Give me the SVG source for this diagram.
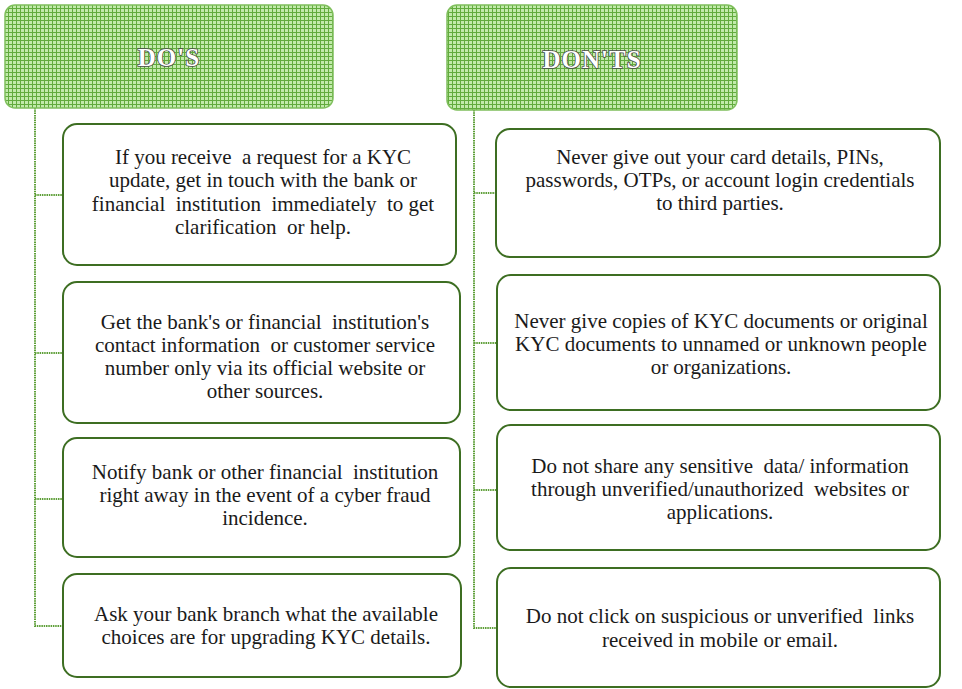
<svg xmlns="http://www.w3.org/2000/svg" width="962" height="689" viewBox="0 0 962 689">
  <defs>
    <!-- fine cross-hatch used for the two header panels -->
    <pattern id="hatch" width="4" height="4" patternUnits="userSpaceOnUse">
      <rect width="4" height="4" fill="#c2eaab"/>
      <path d="M0 0.5H4M0.5 0V4" stroke="#62ab3d" stroke-width="1"/>
    </pattern>
  </defs>
  <style>
    .bg { fill: #ffffff; }
    .head { fill: url(#hatch); stroke: #7fbf5c; stroke-width: 1.5; }
    .head-text { font-family: "Liberation Serif", "Times New Roman", serif; font-weight: bold; font-size: 25px; fill: #ffffff; stroke: #4a4a4a; stroke-width: 1.6; paint-order: stroke; text-anchor: middle; letter-spacing: 1px; }
    .box { fill: #ffffff; stroke: #3d6e22; stroke-width: 2; }
    .wire { fill: none; stroke: #5e9f38; stroke-width: 2; stroke-dasharray: 1.5 0.8; }
    .txt { font-family: "Liberation Serif", "Times New Roman", serif; font-size: 21px; fill: #1a1a1a; text-anchor: middle; white-space: pre; }
    .txt-r { font-size: 21px; }
  </style>
  <rect class="bg" width="962" height="689"/>

  <!-- connectors -->
  <g id="connectors">
    <path class="wire" d="M35 108V626H63M35 195H63M35 353H63M35 499H63"/>
    <path class="wire" d="M474 110V628H496M474 193H496M474 343H496M474 490H496"/>
  </g>

  <!-- headers -->
  <g id="dos-header">
    <rect class="head" x="5" y="5" width="328" height="103" rx="10"/>
    <text class="head-text" x="169" y="66">DO'S</text>
  </g>
  <g id="donts-header">
    <rect class="head" x="447" y="5" width="290" height="105" rx="10"/>
    <text class="head-text" x="592" y="68">DON'TS</text>
  </g>

  <!-- DO'S column -->
  <g id="do-1">
    <rect class="box" x="63" y="124" width="393" height="141" rx="14"/>
    <text class="txt" x="263" y="164">If you receive  a request for a KYC</text>
    <text class="txt" x="263" y="187">update, get in touch with the bank or</text>
    <text class="txt" x="263" y="211">financial  institution  immediately  to get</text>
    <text class="txt" x="263" y="234">clarification  or help.</text>
  </g>
  <g id="do-2">
    <rect class="box" x="63" y="282" width="397" height="141" rx="14"/>
    <text class="txt" x="265" y="329">Get the bank's or financial  institution's</text>
    <text class="txt" x="265" y="352">contact information  or customer service</text>
    <text class="txt" x="265" y="375">number only via its official website or</text>
    <text class="txt" x="265" y="398">other sources.</text>
  </g>
  <g id="do-3">
    <rect class="box" x="63" y="438" width="397" height="119" rx="14"/>
    <text class="txt" x="265" y="479">Notify bank or other financial  institution</text>
    <text class="txt" x="265" y="502">right away in the event of a cyber fraud</text>
    <text class="txt" x="265" y="525">incidence.</text>
  </g>
  <g id="do-4">
    <rect class="box" x="63" y="574" width="398" height="103" rx="14"/>
    <text class="txt" x="266" y="621">Ask your bank branch what the available</text>
    <text class="txt" x="266" y="644">choices are for upgrading KYC details.</text>
  </g>

  <!-- DON'TS column -->
  <g id="dont-1">
    <rect class="box" x="496" y="129" width="444" height="128" rx="14"/>
    <text class="txt txt-r" x="720" y="164">Never give out your card details, PINs,</text>
    <text class="txt txt-r" x="720" y="187">passwords, OTPs, or account login credentials</text>
    <text class="txt txt-r" x="720" y="210">to third parties.</text>
  </g>
  <g id="dont-2">
    <rect class="box" x="497" y="275" width="443" height="135" rx="14"/>
    <text class="txt txt-r" x="721" y="328">Never give copies of KYC documents or original</text>
    <text class="txt txt-r" x="721" y="351">KYC documents to unnamed or unknown people</text>
    <text class="txt txt-r" x="721" y="374">or organizations.</text>
  </g>
  <g id="dont-3">
    <rect class="box" x="497" y="425" width="443" height="125" rx="14"/>
    <text class="txt txt-r" x="720" y="473">Do not share any sensitive  data/ information</text>
    <text class="txt txt-r" x="720" y="496">through unverified/unauthorized  websites or</text>
    <text class="txt txt-r" x="720" y="519">applications.</text>
  </g>
  <g id="dont-4">
    <rect class="box" x="497" y="568" width="443" height="119" rx="14"/>
    <text class="txt txt-r" x="720" y="623">Do not click on suspicious or unverified  links</text>
    <text class="txt txt-r" x="720" y="647">received in mobile or email.</text>
  </g>
</svg>
